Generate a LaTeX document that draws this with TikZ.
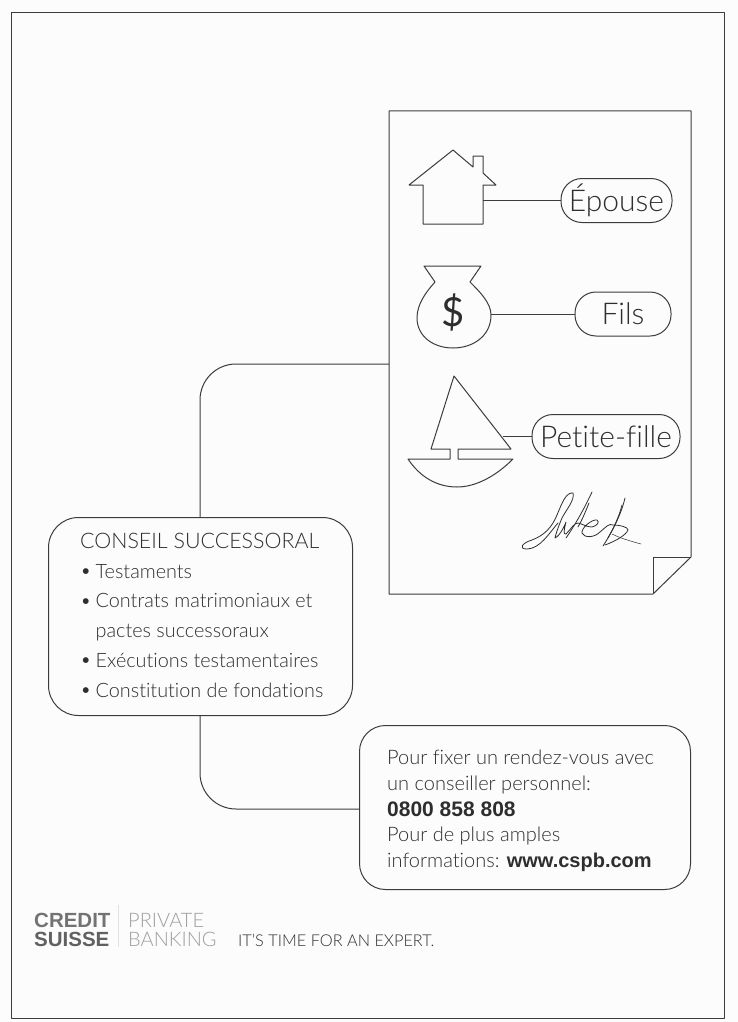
\documentclass[tikz,border=0pt]{standalone}
\usepackage{fontspec}
\setmainfont{Lato Light}[Ligatures=NoCommon,BoldFont=Liberation Sans Bold]
\newfontfamily\logofont{Liberation Sans}
\newfontfamily\dollarfont{Lato}
\definecolor{ink}{HTML}{2E2E2E}
\definecolor{linecol}{HTML}{3C3C3C}
\definecolor{paper}{HTML}{FCFCFC}
\newcommand{\bul}[1]{\makebox[15.5pt][l]{\raisebox{.5pt}{\textbullet}}#1}
\tikzset{
  x=1pt,y=-1pt,
  outline/.style={draw=linecol,line width=1pt,line join=round},
  pill/.style={outline,rounded corners=21pt,minimum height=44pt,inner sep=0pt,font=\fontsize{30}{32}\selectfont,text=ink,anchor=center},
  infobox/.style={outline,inner sep=0pt,text=ink,align=left,anchor=north west},
  link/.style={outline,rounded corners=36pt},
  sig/.style={draw=ink,line width=.8pt,line cap=round,line join=round},
}
\begin{document}
\begin{tikzpicture}
\useasboundingbox (0,0) rectangle (738,1022);
\fill[paper] (0,0) rectangle (738,1022);
\draw[outline] (11,13) rectangle (724,1018);
% page
\draw[outline] (389,111) -- (691,111) -- (691,557) -- (653,594) -- (389,594) -- cycle;
\draw[outline] (691,557) -- (653,557) -- (653,594);
\coordinate (pageport) at (389,364);
% pills
\node[pill,minimum width=111pt] (epouse) at (616.5,200.5) {Épouse};
\node[pill,minimum width=96pt] (fils) at (623,314) {Fils};
\node[pill,minimum width=148pt] (petite) at (606,436.5) {Petite-fille};
% house
\draw[outline] (423,185) -- (409,185) -- (453,150) -- (473,167) -- (473,156) -- (483,156) -- (483,173) -- (496,185) -- (483,185) -- (483,224) -- (423,224) -- cycle;
\coordinate (houseport) at (483,200.5);
% bag
\draw[outline] (424,266) -- (481,266) -- (470,282)
  .. controls (480,292) and (491,303) .. (491,315)
  .. controls (491,336) and (473,348) .. (453,348)
  .. controls (433,348) and (417,336) .. (417,318)
  .. controls (417,304) and (426,292) .. (435,282) -- cycle;
\node[text=ink,inner sep=0pt,font=\dollarfont\fontsize{40}{42}\selectfont] (dollar) at (453,312) {\$};
\coordinate (bagport) at (491,314);
% boat
\draw[outline] (454,376) -- (511,449) -- (458,449) -- (458,459) -- (513,459)
  .. controls (495,477) and (475,487) .. (457,487)
  .. controls (437,487) and (420,477) .. (408,459)
  -- (450,459) -- (450,449) -- (431,449) -- cycle;
\coordinate (boatport) at (503,436.5);
% signature
\draw[sig] (573,493) .. controls (566,492) and (562,503) .. (557,515) .. controls (552,527) and (545,535) .. (532,540)
  .. controls (522,543) and (518,549) .. (527,549) .. controls (540,549) and (550,532) .. (558,523);
\draw[sig] (573,493) .. controls (575,500) and (566,510) .. (562,518) .. controls (559,525) and (556,533) .. (555,538)
  .. controls (558,537) and (563,530) .. (566,522) .. controls (564,530) and (563,535) .. (566,534)
  .. controls (571,529) and (574,523) .. (578,523) .. controls (583,524) and (586,527) .. (592,527)
  .. controls (597,526) and (600,522) .. (597,520) .. controls (592,519) and (581,528) .. (582,533)
  .. controls (584,538) and (594,538) .. (600,532) .. controls (606,527) and (609,523) .. (613,525)
  .. controls (620,525) and (628,527) .. (628,530) .. controls (626,535) and (616,541) .. (605,545);
\draw[sig] (592,492) .. controls (586,505) and (577,522) .. (566,538);
\draw[sig] (589,503) .. controls (585,513) and (582,520) .. (578,527);
\draw[sig] (625,498) .. controls (621,515) and (612,532) .. (603,546);
\draw[sig] (622,505) .. controls (619,517) and (614,527) .. (608,538);
\draw[sig,line width=.5pt] (612,534) .. controls (620,538) and (630,541) .. (641,544);
% boxes
\node[infobox,minimum width=304pt,minimum height=198pt,rounded corners=30pt] (conseil) at (48,517) {};
\node[anchor=north west,inner sep=0pt,text=ink,align=left,font=\fontsize{19.8}{29.7}\selectfont] (conseiltxt) at (80,533) {{\fontsize{21.4}{29.7}\selectfont CONSEIL SUCCESSORAL}\\
\bul{Testaments}\\
\bul{Contrats matrimoniaux et}\\
\hspace*{15.5pt}pactes successoraux\\
\bul{Exécutions testamentaires}\\
\bul{Constitution de fondations}};
\node[infobox,minimum width=331pt,minimum height=164pt,rounded corners=26pt] (contact) at (359,725) {};
\node[anchor=north west,inner sep=0pt,text=ink,align=left,font=\fontsize{20}{25.7}\selectfont] (contacttxt) at (387,750) {Pour fixer un rendez-vous avec\\
un conseiller personnel:\\
{\fontsize{21}{25.7}\selectfont\textbf{0800 858 808}}\\
Pour de plus amples\\
informations: {\fontsize{20}{25.7}\selectfont\textbf{www.cspb.com}}};
% connectors
\draw[outline] (houseport) -- (epouse.west);
\draw[outline] (bagport) -- (fils.west);
\draw[outline] (boatport) -- (petite.west);
\draw[link] (conseil.north -| 200,517) -- (200,364) -- (pageport);
\draw[link] (200,715) -- (200,809) -- (contact.west |- 0,809);
% logo
\node[anchor=base west,inner sep=0pt,text=black!55,font=\logofont\bfseries\fontsize{20.5}{20}\selectfont] (credit) at (34,927) {CREDIT};
\node[anchor=base west,inner sep=0pt,text=black!62,font=\logofont\bfseries\fontsize{20.5}{20}\selectfont] (suisse) at (34,946) {SUISSE};
\draw[black!12,line width=.5pt] (118,905) -- (118,947);
\node[anchor=base west,inner sep=0pt,text=black!38,font=\fontsize{20}{20}\selectfont] (private) at (128,927) {PRIVATE};
\node[anchor=base west,inner sep=0pt,text=black!38,font=\fontsize{20}{20}\selectfont] (banking) at (128,946) {BANKING};
\node[anchor=base west,inner sep=0pt,text=ink,font=\fontsize{16.3}{18}\selectfont] (slogan) at (238,946) {IT'S TIME FOR AN EXPERT.};
\end{tikzpicture}
\end{document}
